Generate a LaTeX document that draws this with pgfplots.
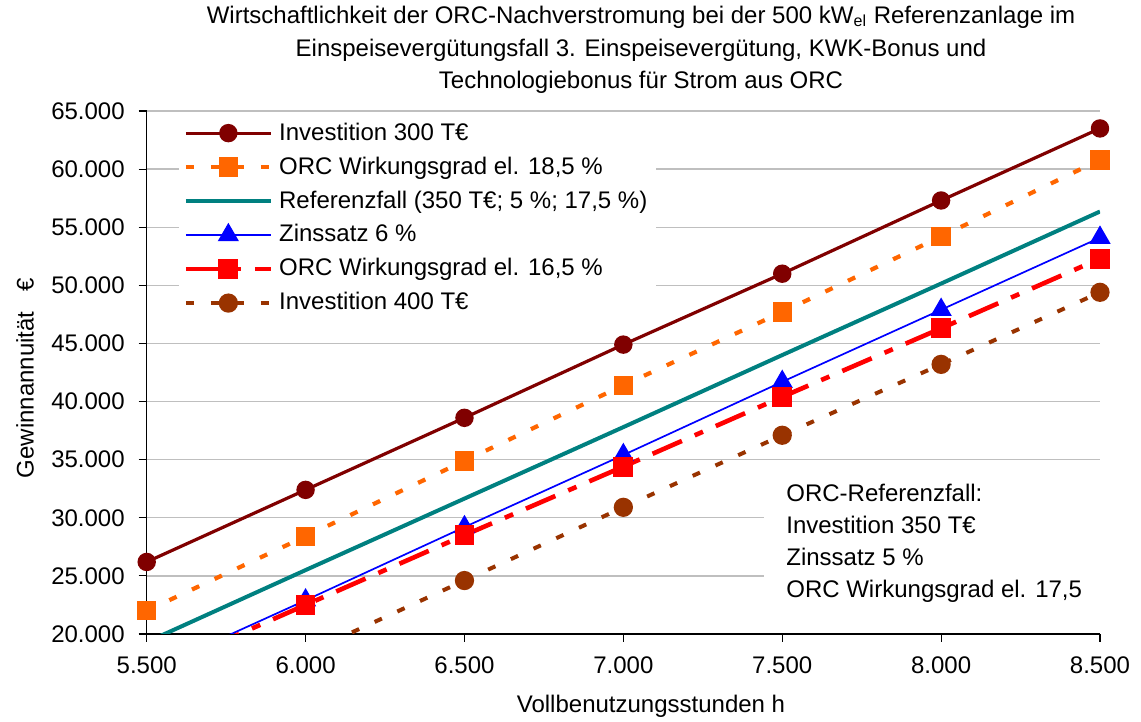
\documentclass[border=0pt]{standalone}
\usepackage{fontspec}
\setmainfont{Liberation Sans}
\usepackage{pgfplots}
\pgfplotsset{compat=1.18}
\definecolor{cA}{HTML}{800000}
\definecolor{cB}{HTML}{FF6600}
\definecolor{cC}{HTML}{008080}
\definecolor{cD}{HTML}{0000FF}
\definecolor{cE}{HTML}{FF0000}
\definecolor{cF}{HTML}{993300}
\begin{document}
\fontsize{12}{14}\selectfont
\begin{tikzpicture}
\useasboundingbox (-73.35pt,-44pt) rectangle (497.15pt,317pt);
\begin{axis}[
  at={(0,0)}, anchor=south west,
  scale only axis, width=476.65pt, height=261.5pt,
  xmin=5500, xmax=8500, ymin=20000, ymax=65000,
  xtick={5500,6000,...,8500}, ytick={20000,25000,...,65000},
  scaled y ticks=false, scaled x ticks=false,
  axis x line*=bottom, axis y line*=left,
  axis line style={black, line width=0.6pt, -},
  tick align=outside, major tick length=4pt,
  tick style={black, line width=0.6pt},
  ymajorgrids, grid style={black!25, line width=0.7pt},
  /pgf/number format/fixed,
  /pgf/number format/1000 sep={.},
  /pgf/number format/assume math mode=true,
  ticklabel style={font=\fontsize{12}{14}\selectfont},
  yticklabel style={xshift=-2.8pt},
  xticklabel style={yshift=-3pt},
  xlabel={Vollbenutzungsstunden h},
  xlabel style={at={(axis description cs:0.529,0)}, anchor=center, yshift=-36pt, font=\fontsize{12}{14}\selectfont},
  ylabel={Gewinnannuität\ \ \ €},
  ylabel style={at={(axis description cs:-0.1277,0.489)}, anchor=center, rotate=0, font=\fontsize{12}{14}\selectfont},
  legend image code/.code={\draw[mark repeat=2,mark phase=2,#1] plot coordinates {(0pt,0pt) (21.25pt,0pt) (42.5pt,0pt)};},
  legend style={at={(axis description cs:0.033,0.99)}, anchor=north west, draw=none, fill=white,
    font=\fontsize{12}{14}\selectfont, cells={anchor=west}, row sep=2.5pt, column sep=1pt, inner xsep=2.5pt, inner ysep=1pt},
]
\addplot[cA, line width=1.6pt, mark=*, mark size=3.8pt] coordinates {
(5500,26200) (6000,32400) (6500,38600) (7000,44900) (7500,51000) (8000,57300) (8500,63500)};
\addlegendentry{Investition 300 T€}
\addplot[cB, line width=2.1pt, dash pattern=on 4pt off 8.5pt, mark=square*, mark size=3.8pt, mark options={solid}] coordinates {
(5500,22000) (6000,28400) (6500,34900) (7000,41400) (7500,47700) (8000,54200) (8500,60800)};
\addlegendentry{ORC Wirkungsgrad el. 18,5 \%}
\addplot[cC, line width=2pt] coordinates {
(5500,19300) (6000,25500) (6500,31650) (7000,37800) (7500,44000) (8000,50150) (8500,56350)};
\addlegendentry{Referenzfall (350 T€; 5 \%; 17,5 \%)}
\addplot[cD, line width=0.85pt, mark=triangle*, mark size=5.3pt] coordinates {
(5500,16700) (6000,22900) (6500,29200) (7000,35400) (7500,41700) (8000,47900) (8500,54100)};
\addlegendentry{Zinssatz 6 \%}
\addplot[cE, line width=2.3pt, dash pattern=on 16pt off 7pt on 4.5pt off 7pt, mark=square*, mark size=3.8pt, mark options={solid}] coordinates {
(5500,16500) (6000,22500) (6500,28500) (7000,34400) (7500,40400) (8000,46300) (8500,52300)};
\addlegendentry{ORC Wirkungsgrad el. 16,5 \%}
\addplot[cF, line width=2pt, dash pattern=on 4pt off 8.5pt, mark=*, mark size=3.8pt, mark options={solid}] coordinates {
(5500,12200) (6000,18300) (6500,24600) (7000,30900) (7500,37100) (8000,43200) (8500,49400)};
\addlegendentry{Investition 400 T€}
\node[fill=white, anchor=north west, align=left, inner xsep=11pt, inner ysep=5pt,
  font=\fontsize{12}{16}\selectfont] at (axis description cs:0.6475,0.3067)
  {ORC-Referenzfall:\\Investition 350 T€\\Zinssatz 5 \%\\ORC Wirkungsgrad el. 17,5};
\end{axis}
\node[align=center, font=\fontsize{12}{16.4}\selectfont] at (247.15pt,292pt)
  {Wirtschaftlichkeit der ORC-Nachverstromung bei der 500 kW\textsubscript{el} Referenzanlage im\\
   Einspeisevergütungsfall 3. Einspeisevergütung, KWK-Bonus und\\
   Technologiebonus für Strom aus ORC};
\end{tikzpicture}
\end{document}
